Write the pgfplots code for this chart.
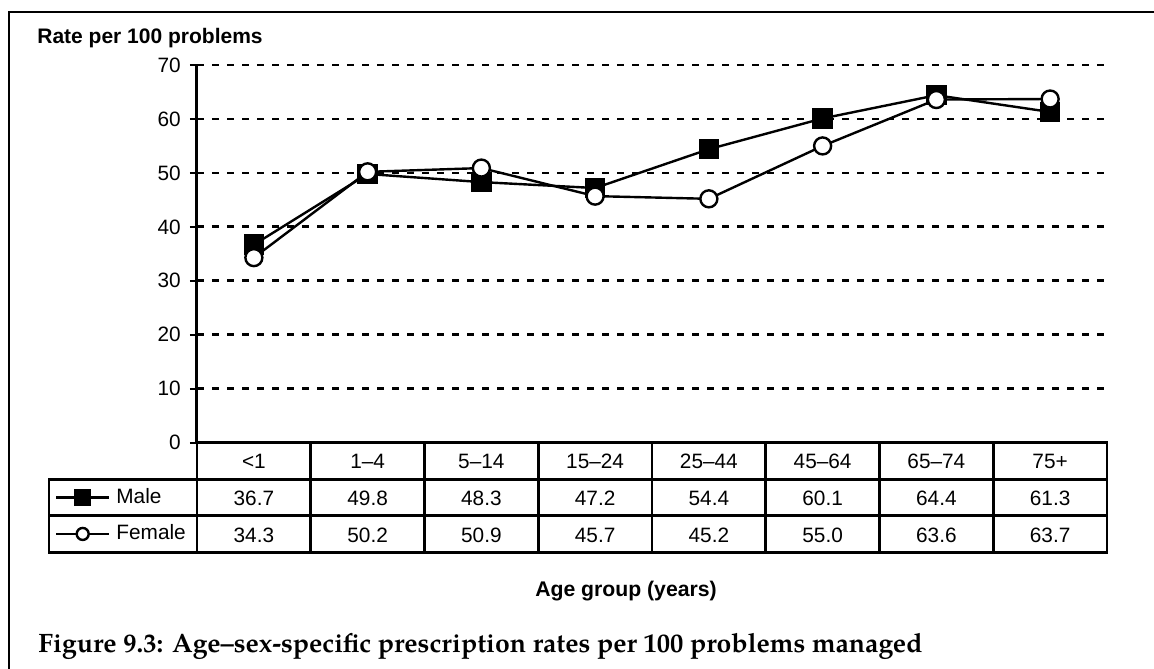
\documentclass[border=0pt]{standalone}
\usepackage{pgfplots}
\pgfplotsset{compat=1.18}
\usepackage{fontspec}
\setmainfont{Liberation Sans}
\newfontfamily\capfont{TeX Gyre Pagella}
\pgfplotsset{
  maleleg/.style={legend image code/.code={\draw[black, line width=1.2pt, mark=square*, mark size=3.75pt, mark repeat=2, mark phase=2] plot coordinates {(0pt,0pt) (13.25pt,0pt) (26.5pt,0pt)};}},
  femaleleg/.style={legend image code/.code={\draw[black, line width=1.2pt, mark=*, mark options={fill=white}, mark size=3pt, mark repeat=2, mark phase=2] plot coordinates {(0pt,0pt) (13.25pt,0pt) (26.5pt,0pt)};}},
}
\begin{document}
\fontsize{10.4pt}{12pt}\selectfont
\begin{tikzpicture}
\useasboundingbox (-98.5pt,-112.65pt) rectangle (478.5pt,221.35pt);
\begin{axis}[
  at={(0pt,0pt)}, anchor=south west,
  scale only axis, width=455pt, height=188.85pt,
  xmin=-0.5, xmax=7.5, ymin=0, ymax=70,
  axis lines*=left,
  axis line style={line width=1.5pt, black},
  ytick={0,10,...,70},
  ymajorgrids,
  grid style={black, line width=1.4pt, dash pattern=on 3.4pt off 4.1pt},
  tick align=center, major tick length=7pt,
  y tick style={line width=1.2pt, black},
  xtick={0,...,7},
  xticklabels={<1,1–4,5–14,15–24,25–44,45–64,65–74,75+},
  x tick style={draw=none},
  xticklabel style={anchor=center, yshift=-5.8pt},
  yticklabel style={xshift=-1pt},
  /pgf/number format/assume math mode=true,
  clip=false,
  legend style={draw=none, fill=none,
    at={(axis description cs:-0.15604,-0.09664)}, anchor=north west,
    inner sep=0pt, outer sep=0pt, row sep=0pt, column sep=3pt,
    nodes={inner sep=0pt, text depth=0.15em, minimum height=18.25pt}},
  legend cell align=left,
]
\addplot[black, line width=1.2pt, mark=square*, mark size=4.5pt, maleleg]
  coordinates {(0,36.7) (1,49.8) (2,48.3) (3,47.2) (4,54.4) (5,60.1) (6,64.4) (7,61.3)};
\addlegendentry{Male}
\addplot[black, line width=1.2pt, mark=*, mark size=4.25pt, mark options={fill=white}, femaleleg]
  coordinates {(0,34.3) (1,50.2) (2,50.9) (3,45.7) (4,45.2) (5,55.0) (6,63.6) (7,63.7)};
\addlegendentry{Female}
\end{axis}
% table grid
\begin{scope}[line width=1.3pt, line cap=rect]
\draw (0pt,0pt) -- (455pt,0pt);
\draw (-74pt,-18.25pt) -- (455pt,-18.25pt);
\draw (-74pt,-36.5pt) -- (455pt,-36.5pt);
\draw (-74pt,-54.75pt) -- (455pt,-54.75pt);
\draw (-74pt,-18.25pt) -- (-74pt,-54.75pt);
\foreach \k in {0,...,8} \draw ({\k*56.875pt},0pt) -- ({\k*56.875pt},-54.75pt);
\end{scope}
\foreach \v [count=\i from 0] in {36.7,49.8,48.3,47.2,54.4,60.1,64.4,61.3}
  \node at ({(\i+0.5)*56.875pt},-27.9pt) {\v};
\foreach \v [count=\i from 0] in {34.3,50.2,50.9,45.7,45.2,55.0,63.6,63.7}
  \node at ({(\i+0.5)*56.875pt},-46.2pt) {\v};
% frame
\draw[line width=1.2pt] (-94pt,-120pt) -- (-94pt,215.35pt) -- (490pt,215.35pt);
% titles
\node[anchor=base west, inner sep=0pt, font=\bfseries\fontsize{10.5pt}{12pt}\selectfont] at (-80pt,199.35pt) {Rate per 100 problems};
\node[anchor=base, inner sep=0pt, font=\bfseries\fontsize{10.6pt}{12pt}\selectfont] at (214.5pt,-76.65pt) {Age group (years)};
\node[anchor=base west, inner sep=0pt, font=\capfont\bfseries\fontsize{13.3pt}{15pt}\selectfont] at (-79.5pt,-104.65pt) {Figure 9.3: Age–sex-specific prescription rates per 100 problems managed};
\end{tikzpicture}
\end{document}
